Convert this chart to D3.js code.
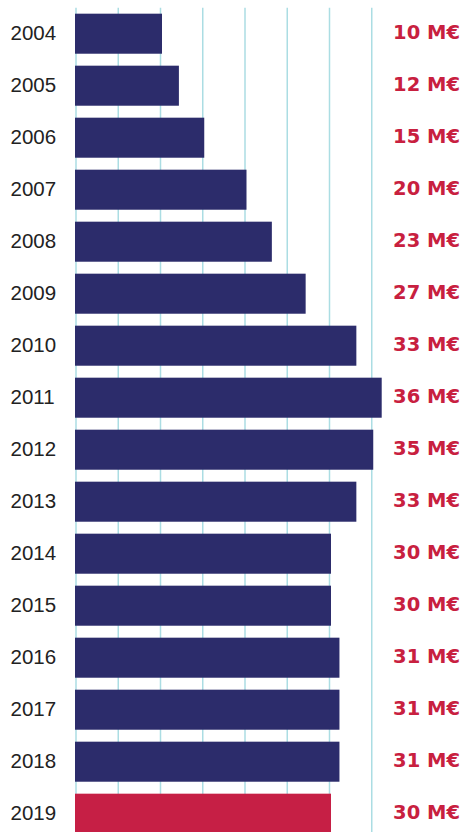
<!DOCTYPE html>
<html>
<head>
<meta charset="utf-8">
<script src="https://cdn.jsdelivr.net/npm/d3@7"></script>
<style>
  body { margin: 0; background: #fff; }
  svg { display: block; }
</style>
</head>
<body>
<div id="chart"></div>
<script>
const years = ["2004", "2005", "2006", "2007", "2008", "2009", "2010", "2011",
               "2012", "2013", "2014", "2015", "2016", "2017", "2018", "2019"];
const values = [10, 12, 15, 20, 23, 27, 33, 36, 35, 33, 30, 30, 31, 31, 31, 30];
const gridTicks = [0, 5, 10, 15, 20, 25, 30, 35];
const highlightYear = "2019";

const width = 467, height = 832;
const data = years.map((y, i) => ({year: y, value: values[i]}));

const x = d3.scaleLinear().domain([0, 35]).range([76, 371.75]);
const y = d3.scaleBand().domain(years).range([7.7, 839.7])
    .paddingInner(0.23).paddingOuter(0.115);

const svg = d3.select("#chart")
    .append("svg")
    .attr("width", width)
    .attr("height", height);

// gridlines
svg.append("g")
    .selectAll("line")
    .data(gridTicks)
    .enter()
    .append("line")
    .attr("x1", d => x(d))
    .attr("x2", d => x(d))
    .attr("y1", y.range()[0])
    .attr("y2", height)
    .attr("stroke", "#abdde3")
    .attr("stroke-width", 1.5);

// bars
svg.append("g")
    .selectAll("rect")
    .data(data)
    .enter()
    .append("rect")
    .attr("x", x(0) - 1)
    .attr("y", d => y(d.year))
    .attr("width", d => x(d.value) - x(0) + 2.5)
    .attr("height", y.bandwidth())
    .attr("fill", d => d.year === highlightYear ? "#c61f45" : "#2c2c6b");

// year labels
svg.append("g")
    .selectAll("text")
    .data(data)
    .enter()
    .append("text")
    .attr("x", 10.5)
    .attr("y", d => y(d.year) + y.bandwidth() / 2 + 5.8)
    .style("font-family", "'Liberation Sans', Arial, sans-serif")
    .style("font-size", "20.5px")
    .style("fill", "#222")
    .text(d => d.year);

// value labels
svg.append("g")
    .selectAll("text")
    .data(data)
    .enter()
    .append("text")
    .attr("x", 460)
    .attr("y", d => y(d.year) + y.bandwidth() / 2 + 5.6)
    .style("text-anchor", "end")
    .style("font-family", "'DejaVu Sans', sans-serif")
    .style("font-weight", "bold")
    .style("font-size", "19.5px")
    .style("fill", "#c8203f")
    .text(d => d.value + " M€");
</script>
</body>
</html>
